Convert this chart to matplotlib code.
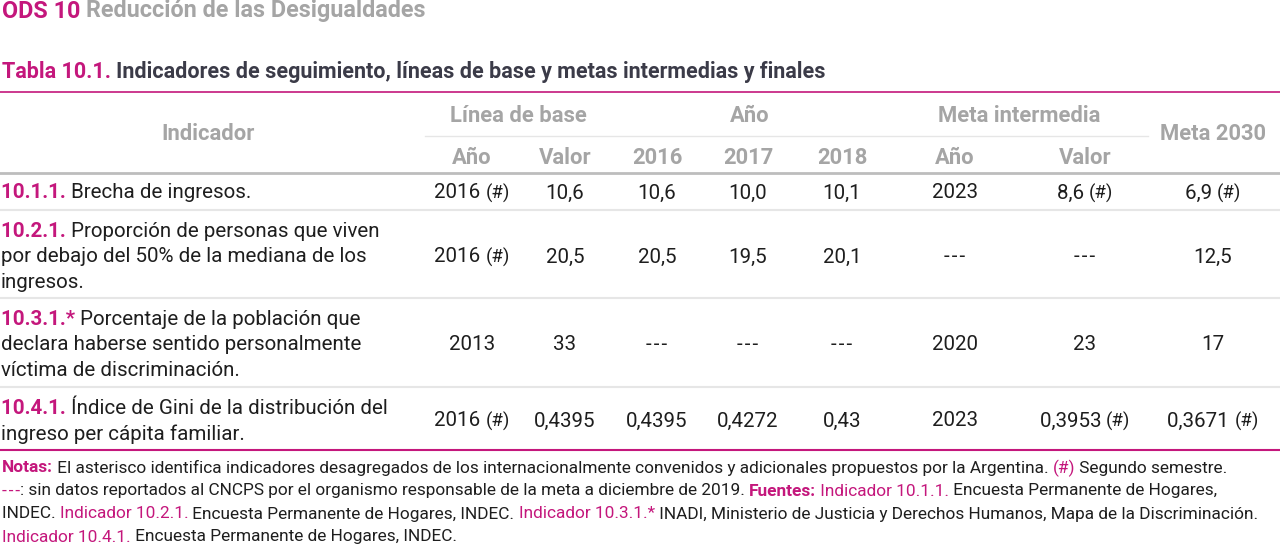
import matplotlib
matplotlib.use('Agg')
import matplotlib.pyplot as plt
from matplotlib import font_manager

# fonts: prefer a narrow face, the reference uses a condensed sans
names = set(f.name for f in font_manager.fontManager.ttflist)
FONT = 'Liberation Sans Narrow' if 'Liberation Sans Narrow' in names else 'Roboto'
plt.rcParams['font.family'] = [FONT, 'DejaVu Sans']

MAGENTA = '#c4177c'
GRAY_HEAD = '#a5a5a5'
DARK = '#3b3b48'
TEXT = '#1e1e1e'
DASH = '-\u200a-\u200a-'

# data
codes = ['10.1.1.', '10.2.1.', '10.3.1.*', '10.4.1.']
indicators = [
    ['Brecha de ingresos.'],
    ['Proporción de personas que viven', 'por debajo del 50% de la mediana de los', 'ingresos.'],
    ['Porcentaje de la población que', 'declara haberse sentido personalmente', 'víctima de discriminación.'],
    ['Índice de Gini de la distribución del', 'ingreso per cápita familiar.'],
]
base_year = ['2016 (#)', '2016 (#)', '2013', '2016 (#)']
base_value = ['10,6', '20,5', '33', '0,4395']
val_2016 = ['10,6', '20,5', '---', '0,4395']
val_2017 = ['10,0', '19,5', '---', '0,4272']
val_2018 = ['10,1', '20,1', '---', '0,43']
mid_year = ['2023', '---', '2020', '2023']
mid_value = ['8,6 (#)', '---', '23', '0,3953 (#)']
goal_2030 = ['6,9 (#)', '12,5', '17', '0,3671 (#)']

sub_headers = ['Año', 'Valor', '2016', '2017', '2018', 'Año', 'Valor']

fig = plt.figure(figsize=(12.8, 5.46), dpi=100)
ax = fig.add_axes([0, 0, 1, 1])
ax.set_xlim(0, 1280)
ax.set_ylim(546, 0)
ax.axis('off')
renderer = fig.canvas.get_renderer()


def runs(x, y, parts, size, va='center'):
    """draw a line of text made of (string, color, weight) pieces"""
    for s, c, w in parts:
        t = ax.text(x, y, s, color=c, fontsize=size, fontweight=w, va=va, ha='left')
        bb = t.get_window_extent(renderer=renderer)
        x = ax.transData.inverted().transform((bb.x1, bb.y0))[0]
    return x


def cell(xc, y, s, size):
    """centered cell text, with a slightly smaller (#) mark"""
    s = s.replace('---', DASH)
    if '(#)' not in s:
        ax.text(xc, y, s, color=TEXT, fontsize=size, ha='center', va='center')
        return
    main = s.replace(' (#)', ' ')
    small = size * 0.9
    t1 = ax.text(0, y, main, fontsize=size)
    t2 = ax.text(0, y, '(#)', fontsize=small)
    w1 = t1.get_window_extent(renderer=renderer).width
    w2 = t2.get_window_extent(renderer=renderer).width
    t1.remove()
    t2.remove()
    x0 = xc - (w1 + w2) / 2
    ax.text(x0, y, main, color=TEXT, fontsize=size, ha='left', va='center')
    ax.text(x0 + w1, y + 0.3, '(#)', color=TEXT, fontsize=small, ha='left', va='center')


# titles
runs(2, 11, [('ODS 10 ', MAGENTA, 'bold'), ('Reducción de las Desigualdades', GRAY_HEAD, 'bold')], 16.8)
runs(2, 72, [('Tabla 10.1. ', MAGENTA, 'bold'),
             ('Indicadores de seguimiento, líneas de base y metas intermedias y finales', DARK, 'bold')], 15.5)

# rules
ax.plot([0, 1280], [92, 92], color=MAGENTA, lw=1.2)
ax.plot([0, 1280], [173, 173], color='#bdbdbd', lw=2)
ax.plot([425, 1148], [136, 136], color='#e6e6e6', lw=1)
for yy in [210, 298, 387]:
    ax.plot([0, 1280], [yy, yy], color='#e6e6e6', lw=1.5)
ax.plot([0, 1280], [450, 450], color=MAGENTA, lw=1.5)

# headers
col_x = [472, 565, 657, 748, 842, 955, 1085, 1213]
hs = 15.8
ax.text(208, 134, 'Indicador', color=GRAY_HEAD, fontsize=hs, fontweight='bold', ha='center', va='center')
ax.text(518, 116, 'Línea de base', color=GRAY_HEAD, fontsize=hs, fontweight='bold', ha='center', va='center')
ax.text(750, 116, 'Año', color=GRAY_HEAD, fontsize=hs, fontweight='bold', ha='center', va='center')
ax.text(1019, 116, 'Meta intermedia', color=GRAY_HEAD, fontsize=hs, fontweight='bold', ha='center', va='center')
ax.text(1213, 134, 'Meta 2030', color=GRAY_HEAD, fontsize=hs, fontweight='bold', ha='center', va='center')
for x, h in zip(col_x, sub_headers):
    ax.text(x, 158, h, color=GRAY_HEAD, fontsize=hs, fontweight='bold', ha='center', va='center')

# body rows
row_center = [193, 257, 345, 421]
line_gap = 25.5
bs = 14.8
columns = [base_year, base_value, val_2016, val_2017, val_2018, mid_year, mid_value, goal_2030]
for i in range(len(codes)):
    lines = indicators[i]
    y0 = row_center[i] - (len(lines) - 1) * line_gap / 2
    for j, ln in enumerate(lines):
        yy = y0 + j * line_gap
        if j == 0:
            runs(1, yy, [(codes[i] + ' ', MAGENTA, 'bold'), (ln, TEXT, 'normal')], bs)
        else:
            ax.text(1, yy, ln, color=TEXT, fontsize=bs, va='center', ha='left')
    for x, col in zip(col_x, columns):
        cell(x, row_center[i], col[i], bs)

# notes
ns = 12.45
note_lines = [
    [('Notas:', MAGENTA, 'bold'),
     (' El asterisco identifica indicadores desagregados de los internacionalmente convenidos y adicionales propuestos por la Argentina. ', TEXT, 'normal'),
     ('(#)', MAGENTA, 'normal'), (' Segundo semestre.', TEXT, 'normal')],
    [(DASH, MAGENTA, 'normal'),
     (': sin datos reportados al CNCPS por el organismo responsable de la meta a diciembre de 2019. ', TEXT, 'normal'),
     ('Fuentes:', MAGENTA, 'bold'), (' Indicador 10.1.1.', MAGENTA, 'normal'),
     (' Encuesta Permanente de Hogares,', TEXT, 'normal')],
    [('INDEC. ', TEXT, 'normal'), ('Indicador 10.2.1.', MAGENTA, 'normal'),
     (' Encuesta Permanente de Hogares, INDEC. ', TEXT, 'normal'), ('Indicador 10.3.1.*', MAGENTA, 'normal'),
     (' INADI, Ministerio de Justicia y Derechos Humanos, Mapa de la Discriminación.', TEXT, 'normal')],
    [('Indicador 10.4.1.', MAGENTA, 'normal'), (' Encuesta Permanente de Hogares, INDEC.', TEXT, 'normal')],
]
for k, parts in enumerate(note_lines):
    runs(2, 468 + k * 23, parts, ns)

fig.savefig('out.png', dpi=100)
